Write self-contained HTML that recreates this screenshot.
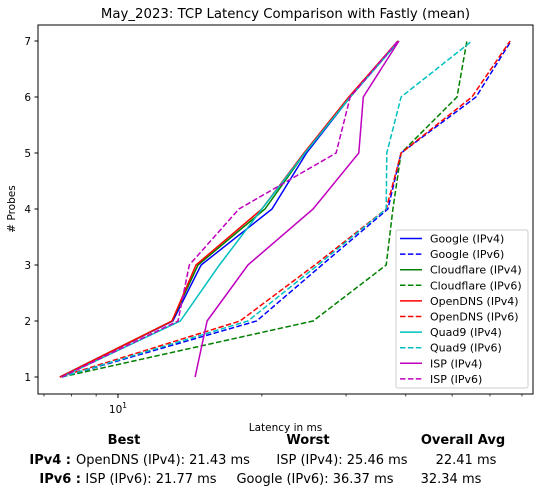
<!DOCTYPE html>
<html><head><meta charset="utf-8"><style>
body{margin:0;background:#fff;width:541px;height:496px;overflow:hidden}
svg{display:block;font-family:"DejaVu Sans","Liberation Sans",sans-serif}
</style></head><body>
<svg id="chart" width="541" height="496" viewBox="0 0 541 496" xmlns="http://www.w3.org/2000/svg">
<text x="285.5" y="18" text-anchor="middle" font-size="13.3">May_2023: TCP Latency Comparison with Fastly (mean)</text>
<rect x="38" y="25" width="495" height="369" fill="none" stroke="#000" stroke-width="1"/>
<g id="axes"></g>
<g id="series"></g>
<text x="285.5" y="431" text-anchor="middle" font-size="10.5">Latency in ms</text>
<text transform="translate(15,209) rotate(-90)" text-anchor="middle" font-size="10.5"># Probes</text>
<g id="legend"></g>
<g font-size="13">
<text x="124" y="444" text-anchor="middle" font-weight="bold">Best</text>
<text x="308" y="444" text-anchor="middle" font-weight="bold">Worst</text>
<text x="463" y="444" text-anchor="middle" font-weight="bold">Overall Avg</text>
<text x="71" y="464" text-anchor="end" font-weight="bold">IPv4 :</text>
<text x="163" y="464" text-anchor="middle">OpenDNS (IPv4): 21.43 ms</text>
<text x="342" y="464" text-anchor="middle">ISP (IPv4): 25.46 ms</text>
<text x="466" y="464" text-anchor="middle">22.41 ms</text>
<text x="81" y="483" text-anchor="end" font-weight="bold">IPv6 :</text>
<text x="151" y="483" text-anchor="middle">ISP (IPv6): 21.77 ms</text>
<text x="315" y="483" text-anchor="middle">Google (IPv6): 36.37 ms</text>
<text x="451" y="483" text-anchor="middle">32.34 ms</text>
</g>
</svg>
<script>
const probes = [1,2,3,4,5,6,7];
const seriesNames = ["Google (IPv4)","Google (IPv6)","Cloudflare (IPv4)","Cloudflare (IPv6)","OpenDNS (IPv4)","OpenDNS (IPv6)","Quad9 (IPv4)","Quad9 (IPv6)","ISP (IPv4)","ISP (IPv6)"];
const googleV4 = [7.56,13.03,14.92,21.0,24.8,30.6,38.7];
const googleV6 = [7.63,19.5,26.7,36.7,39.1,56.1,66.4];
const cloudflareV4 = [7.56,12.97,14.70,20.3,24.6,30.6,38.5];
const cloudflareV6 = [7.63,25.6,36.4,37.6,39.1,51.2,53.7];
const opendnsV4 = [7.56,12.97,14.56,20.0,24.5,30.4,38.5];
const opendnsV6 = [7.56,18.0,25.8,36.4,39.1,55.0,66.1];
const quad9V4 = [7.63,13.5,16.3,20.0,24.6,30.6,38.7];
const quad9V6 = [7.63,18.7,26.2,36.4,36.5,39.1,55.0];
const ispV4 = [14.5,15.36,18.7,25.6,31.9,32.6,38.7];
const ispV6 = [7.63,13.35,14.1,17.9,28.6,30.6,38.5];
const allSeries = [googleV4,googleV6,cloudflareV4,cloudflareV6,opendnsV4,opendnsV6,quad9V4,quad9V6,ispV4,ispV6];
const colors = ["#0000ff","#0000ff","#008000","#008000","#ff0000","#ff0000","#00bfbf","#00bfbf","#bf00bf","#bf00bf"];
const yTicks = [1,2,3,4,5,6,7];
const xMinorTicks = [7,8,9,20,30,40,50,60,70];
const xMajorTicks = [10];

const NS="http://www.w3.org/2000/svg";
function xs(v){return 118+478*Math.log10(v/10);}
function ys(v){return 377-56*(v-1);}
function mk(tag,attrs,parent){const e=document.createElementNS(NS,tag);for(const k in attrs)e.setAttribute(k,attrs[k]);parent.appendChild(e);return e;}
const axes=document.getElementById('axes');
yTicks.forEach(t=>{
  const l=mk('line',{x1:34.5,x2:38,y1:ys(t),y2:ys(t),stroke:'#000'},axes);
  
  
  const tx=mk('text',{x:31,y:ys(t)+4,'text-anchor':'end','font-size':10.5},axes);
  
  
  tx.textContent=t;
});
xMinorTicks.forEach(t=>{
  const l=mk('line',{x1:xs(t),x2:xs(t),y1:394,y2:396.5,stroke:'#000','stroke-width':0.7},axes);
  
  
});
xMajorTicks.forEach(t=>{
  const l=mk('line',{x1:xs(t),x2:xs(t),y1:394,y2:398,stroke:'#000'},axes);
  
  
  const tx=mk('text',{x:xs(t),y:413,'text-anchor':'middle','font-size':10.5},axes);
  
  
  tx.innerHTML='10<tspan dy="-5" font-size="7.5">1</tspan>';
});
const sg=document.getElementById('series');
allSeries.forEach((vals,i)=>{
  const pts=vals.map((v,j)=>xs(v).toFixed(1)+','+ys(probes[j]).toFixed(1)).join(' ');
  const p=mk('polyline',{points:pts,fill:'none',stroke:colors[i],'stroke-width':1.5},sg);
  if(i%2===1)p.setAttribute('stroke-dasharray','5.5,2.4');
  
  
});
const lg=document.getElementById('legend');
const box=mk('rect',{x:396,y:230,width:132,height:158,rx:2,fill:'#fff','fill-opacity':0.8,stroke:'#ccc'},lg);


seriesNames.forEach((n,i)=>{
  const y=238.5+15.6*i;
  const l=mk('line',{x1:400,x2:422,y1:y,y2:y,stroke:colors[i],'stroke-width':1.5},lg);
  if(i%2===1)l.setAttribute('stroke-dasharray','5.5,2.4');
  
  
  const t=mk('text',{x:430,y:y+4,'font-size':11},lg);
  
  
  t.textContent=n;
});
</script>
</body></html>
